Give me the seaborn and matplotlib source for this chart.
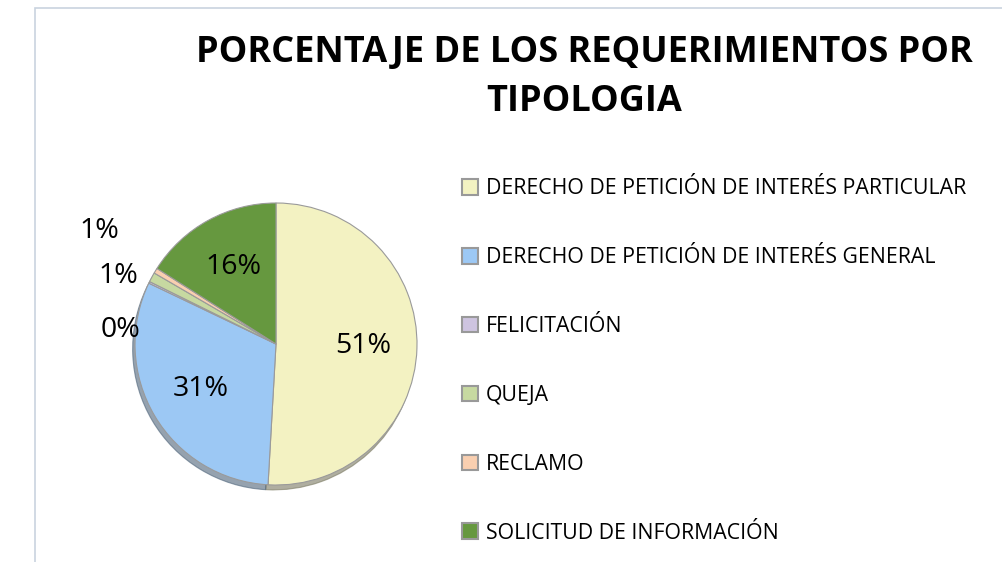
import matplotlib.pyplot as plt
import matplotlib.patches as mpatches
import seaborn as sns

# Data
categorias = ['DERECHO DE PETICIÓN DE INTERÉS PARTICULAR',
              'DERECHO DE PETICIÓN DE INTERÉS GENERAL',
              'FELICITACIÓN',
              'QUEJA',
              'RECLAMO',
              'SOLICITUD DE INFORMACIÓN']
porcentajes = [50.9, 31.2, 0.2, 1.1, 0.6, 16.0]
colores = ['#F3F2C2', '#9CC8F4', '#CEC4E0', '#C7D9A1', '#F9CFB0', '#66983F']

sns.set_theme(style="white")
plt.rcParams['font.family'] = ['Open Sans', 'DejaVu Sans']
plt.rcParams['text.color'] = 'black'
paleta = sns.color_palette(colores)

fig = plt.figure(figsize=(10.03, 5.62), dpi=100)

# chart frame
fig.patches.append(mpatches.Rectangle((35/1003, -0.1), 1.2, (562-8)/562 + 0.1,
                                      transform=fig.transFigure, fill=False,
                                      edgecolor='#C9D3DF', linewidth=1.2))

fig.text(584/1003, 1 - 53/562, 'PORCENTAJE DE LOS REQUERIMIENTOS POR',
         ha='center', va='center', fontsize=26, fontweight='bold')
fig.text(584/1003, 1 - 102/562, 'TIPOLOGIA',
         ha='center', va='center', fontsize=26, fontweight='bold')

# pie axes
R = 141
cx, cy, half = 276, 562 - 344, 170
ax = fig.add_axes([(cx - half)/1003, (cy - half)/562, 2*half/1003, 2*half/562])
wedges, texts, autotexts = ax.pie(
    porcentajes, colors=paleta, startangle=90, counterclock=False,
    autopct='%.0f%%', pctdistance=0.62, radius=1,
    wedgeprops=dict(edgecolor='#9A9A9A', linewidth=0.8),
    shadow=dict(ox=-0.012, oy=-0.025, shade=0.5, alpha=0.6),
    textprops=dict(fontsize=20.5, color='black'))
ax.set_xlim(-half/R, half/R)
ax.set_ylim(-half/R, half/R)
ax.set_aspect('equal')
ax.axis('off')

# small slice labels sit outside the pie
for t, pos in zip(autotexts[2:5], [(-1.10, 0.10), (-1.12, 0.48), (-1.25, 0.80)]):
    t.set_position(pos)

leg = fig.legend(wedges, categorias, loc='upper left',
                 bbox_to_anchor=(454/1003, 1 - 170/562),
                 frameon=False, fontsize=15.3, labelspacing=2.25,
                 handlelength=0.75, handleheight=0.75, handletextpad=0.35,
                 borderaxespad=0)
for h in leg.legend_handles:
    h.set_edgecolor('#999999')
    h.set_linewidth(1.5)

fig.savefig('out.png', dpi=100)
